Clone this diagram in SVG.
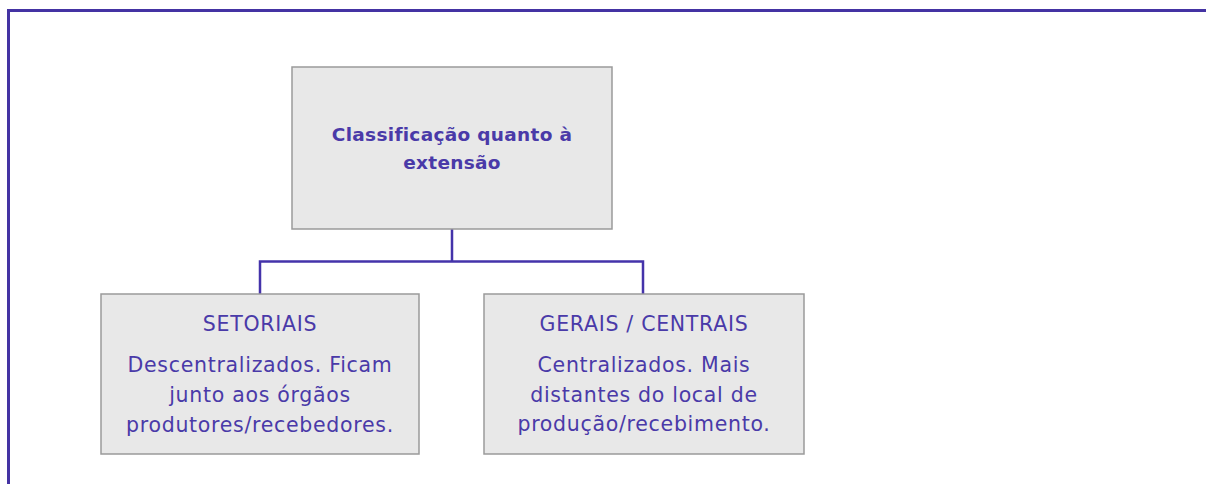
<svg xmlns="http://www.w3.org/2000/svg" width="1206" height="484" viewBox="0 0 1206 484">
<style>
.box{fill:#e8e8e8;stroke:#9a9a9a;stroke-width:1.5}
.t{font-family:"DejaVu Sans","Open Sans",sans-serif;fill:#4a3aa8;text-anchor:middle;font-size:20.5px;letter-spacing:0.7px}
.b{font-weight:bold;font-size:18.5px;letter-spacing:0.3px}
.conn{fill:none;stroke:#4433aa;stroke-width:2.5}
</style>
<rect width="1206" height="484" fill="#ffffff"/>
<path d="M8.5 484 V10.5 H1206" fill="none" stroke="#4433a3" stroke-width="3"/>
<g id="connectors">
<path class="conn" d="M452 229 V261.5 M260 294 V261.5 H643 V294"/>
</g>
<g id="node-root">
<rect class="box" x="292" y="67" width="320" height="162"/>
<text class="t b" x="452" y="141">Classificação quanto à</text>
<text class="t b" x="452" y="169">extensão</text>
</g>
<g id="node-setoriais">
<rect class="box" x="101" y="294" width="318" height="160"/>
<text class="t" x="260" y="331">SETORIAIS</text>
<text class="t" x="260" y="372">Descentralizados. Ficam</text>
<text class="t" x="260" y="402">junto aos órgãos</text>
<text class="t" x="260" y="432">produtores/recebedores.</text>
</g>
<g id="node-gerais">
<rect class="box" x="484" y="294" width="320" height="160"/>
<text class="t" x="644" y="331">GERAIS / CENTRAIS</text>
<text class="t" x="644" y="372">Centralizados. Mais</text>
<text class="t" x="644" y="402">distantes do local de</text>
<text class="t" x="644" y="431">produção/recebimento.</text>
</g>
</svg>
